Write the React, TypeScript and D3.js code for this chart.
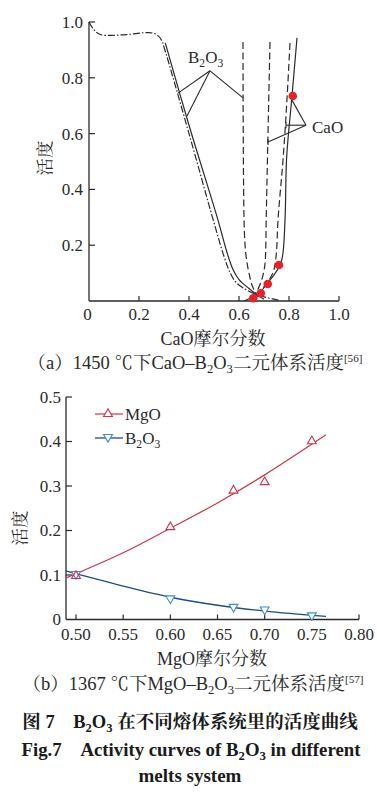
import React from "react";
import * as d3 from "d3";

type P = [number, number];

// ---- Chart (a): CaO–B2O3 at 1450 ℃ ----
const aXTicks = [0, 0.2, 0.4, 0.6, 0.8, 1.0];
const aYTicks = [0.2, 0.4, 0.6, 0.8, 1.0];
const aB2O3DashDot: P[] = [
  [0, 1.0], [0.02, 0.972], [0.045, 0.955], [0.15, 0.955], [0.24, 0.962], [0.27, 0.955],
  [0.29, 0.935], [0.30, 0.91], [0.40, 0.6], [0.497, 0.29], [0.54, 0.16], [0.565, 0.1],
  [0.59, 0.065], [0.64, 0.035], [0.70, 0.015], [0.76, 0.003],
];
const aB2O3Solid: P[] = [
  [0.305, 0.925], [0.40, 0.63], [0.516, 0.29], [0.55, 0.18], [0.575, 0.115], [0.60, 0.077],
  [0.64, 0.045], [0.672, 0.022], [0.70, 0.006],
];
const aB2O3Dashed: P[] = [
  [0.616, 0.928], [0.617, 0.6], [0.62, 0.3], [0.626, 0.18], [0.64, 0.1], [0.655, 0.05], [0.675, 0.015],
];
const aCaODashed1: P[] = [
  [0.724, 0.928], [0.716, 0.6], [0.709, 0.3], [0.706, 0.16], [0.698, 0.1], [0.682, 0.055],
  [0.662, 0.022], [0.65, 0.01],
];
const aCaODashed2: P[] = [
  [0.804, 0.925], [0.776, 0.505], [0.756, 0.29], [0.748, 0.158], [0.735, 0.1], [0.712, 0.065],
  [0.685, 0.035], [0.664, 0.014],
];
const aCaOSolid: P[] = [
  [0.832, 0.943], [0.812, 0.735], [0.79, 0.505], [0.784, 0.29], [0.776, 0.172], [0.765, 0.13],
  [0.745, 0.1], [0.71, 0.06], [0.675, 0.025], [0.644, 0.01], [0.62, 0.0],
];
const aCaOPoints: P[] = [
  [0.815, 0.735], [0.76, 0.129], [0.715, 0.061], [0.687, 0.028], [0.657, 0.01],
];
// leader lines (data coordinates)
const aB2O3Apex: P = [0.484, 0.825];
const aB2O3Targets: P[] = [[0.356, 0.745], [0.392, 0.663], [0.616, 0.728]];
const aCaOApex: P = [0.868, 0.63];
const aCaOTargets: P[] = [[0.812, 0.72], [0.788, 0.63], [0.716, 0.57]];

// ---- Chart (b): MgO–B2O3 at 1367 ℃ ----
const bXTicks = [0.5, 0.55, 0.6, 0.65, 0.7, 0.75, 0.8];
const bYTicks = [0, 0.1, 0.2, 0.3, 0.4, 0.5];
const bMgOX = [0.5, 0.6, 0.667, 0.7, 0.75];
const bMgOY = [0.10, 0.21, 0.292, 0.311, 0.403];
const bB2O3X = [0.5, 0.6, 0.667, 0.7, 0.75];
const bB2O3Y = [0.10, 0.045, 0.026, 0.02, 0.007];
const bMgOFit: P[] = [[0.489, 0.093], [0.55, 0.15], [0.6, 0.205], [0.65, 0.262], [0.7, 0.325], [0.765, 0.415]];
const bB2O3Fit: P[] = [[0.489, 0.109], [0.55, 0.075], [0.6, 0.05], [0.65, 0.032], [0.7, 0.019], [0.765, 0.007]];

const SERIF = "'Liberation Serif','Times New Roman','Noto Serif CJK SC','Noto Sans CJK SC',serif";
const INK = "#2a2a2a";
const RED_DOT = "#e5232b";
const MGO_COLOR = "#c8374a";
const B2O3_LINE = "#1e4d80";
const B2O3_MARK = "#3b8ec9";

// "before B₂O₃ after" rendered as tspans (no empty tspans)
function b2o3(before: string, after: string, d = 4) {
  return [
    <tspan key="b">{before + "B"}</tspan>,
    <tspan key="s2" dy={d} fontSize="0.68em">2</tspan>,
    <tspan key="o" dy={-d}>O</tspan>,
    <tspan key="s3" dy={d} fontSize="0.68em">3</tspan>,
    <tspan key="a" dy={-d}>{after}</tspan>,
  ];
}

export default function App() {
  // chart (a) scales
  const ax = d3.scaleLinear().domain([0, 1]).range([89, 339]);
  const ay = d3.scaleLinear().domain([0, 1]).range([301, 22]);
  const aLine = d3.line<P>().x((d) => ax(d[0])).y((d) => ay(d[1])).curve(d3.curveMonotoneY);
  const aLineX = d3.line<P>().x((d) => ax(d[0])).y((d) => ay(d[1])).curve(d3.curveCatmullRom.alpha(0.5));

  // chart (b) scales
  const bx = d3.scaleLinear().domain([0.4894, 0.8]).range([66, 359]);
  const by = d3.scaleLinear().domain([0, 0.5]).range([619.5, 397]);
  const bLine = d3.line<P>().x((d) => bx(d[0])).y((d) => by(d[1])).curve(d3.curveCatmullRom.alpha(0.5));
  const triUp = d3.symbol(d3.symbolTriangle, 34)()!;

  const lw = 1.2;

  return (
    <svg width={377} height={795} style={{ position: "absolute", left: 0, top: 0, background: "#fff" }}
      fontFamily={SERIF}>
      <rect x={0} y={0} width={377} height={795} fill="#fff" />
      {/* ===== Chart (a) ===== */}
      <g>
        <line x1={ax(0)} x2={ax(0)} y1={ay(0)} y2={ay(1)} stroke={INK} strokeWidth={1.3} />
        <line x1={ax(0)} x2={ax(1)} y1={ay(0)} y2={ay(0)} stroke={INK} strokeWidth={1.3} />
        {aYTicks.map((t) => (
          <g key={"ay" + t}>
            <line x1={ax(0)} x2={ax(0) + 6} y1={ay(t)} y2={ay(t)} stroke={INK} strokeWidth={1.2} />
            <text x={83} y={ay(t)} dy="0.35em" textAnchor="end" fontSize={17} fill={INK}>{t.toFixed(1)}</text>
          </g>
        ))}
        {aXTicks.map((t) => (
          <g key={"ax" + t}>
            {t > 0 && <line x1={ax(t)} x2={ax(t)} y1={ay(0)} y2={ay(0) - 5} stroke={INK} strokeWidth={1.2} />}
            <text x={ax(t) - (t === 0 ? 1.5 : 0)} y={320} textAnchor="middle" fontSize={17} fill={INK}>
              {t === 0 ? "0" : t.toFixed(1)}
            </text>
          </g>
        ))}
        <text transform="translate(51,158) rotate(-90)" textAnchor="middle" fontSize={17.5} fill={INK}>活度</text>
        <text x={213} y={345} textAnchor="middle" fontSize={18} fill={INK}>CaO摩尔分数</text>

        <g fill="none" stroke={INK} strokeWidth={lw}>
          <path d={aLineX(aB2O3DashDot)!} strokeDasharray="7 2 1.5 2" />
          <path d={aLineX(aB2O3Solid)!} />
          <path d={aLine(aB2O3Dashed)!} strokeDasharray="7 3.5" />
          <path d={aLine(aCaODashed1)!} strokeDasharray="7 3.5" />
          <path d={aLine(aCaODashed2)!} strokeDasharray="7 3.5" />
          <path d={aLine(aCaOSolid)!} />
          {aB2O3Targets.map((t, i) => (
            <line key={"lb" + i} x1={ax(aB2O3Apex[0])} y1={ay(aB2O3Apex[1])} x2={ax(t[0])} y2={ay(t[1])} strokeWidth={1.1} />
          ))}
          {aCaOTargets.map((t, i) => (
            <line key={"lc" + i} x1={ax(aCaOApex[0])} y1={ay(aCaOApex[1])} x2={ax(t[0])} y2={ay(t[1])} strokeWidth={1.1} />
          ))}
          {aCaOTargets.slice(1).map((t, i) => (
            <line key={"lct" + i} x1={ax(t[0])} y1={ay(t[1]) - 3} x2={ax(t[0])} y2={ay(t[1]) + 3} strokeWidth={1.1} />
          ))}
        </g>
        {aCaOPoints.map((p, i) => (
          <circle key={"cp" + i} cx={ax(p[0])} cy={ay(p[1])} r={4.3} fill={RED_DOT} />
        ))}
        <text x={188} y={63} fontSize={17} fill={INK}>{b2o3("", "")}</text>
        <text x={312} y={133} fontSize={17} fill={INK}>CaO</text>

        <text x={195} y={369} textAnchor="middle" fontSize={18.5} fill={INK}>
          {b2o3("（a）1450 ℃下CaO–", "二元体系活度")}
          <tspan dy={-7} fontSize="0.6em">[56]</tspan>
        </text>
      </g>

      {/* ===== Chart (b) ===== */}
      <g>
        <line x1={bx.range()[0]} x2={bx.range()[0]} y1={by(0)} y2={by(0.5)} stroke={INK} strokeWidth={1.3} />
        <line x1={bx.range()[0]} x2={bx.range()[1]} y1={by(0)} y2={by(0)} stroke={INK} strokeWidth={1.3} />
        {bYTicks.map((t) => (
          <g key={"by" + t}>
            {t > 0 && <line x1={bx.range()[0]} x2={bx.range()[0] + 6} y1={by(t)} y2={by(t)} stroke={INK} strokeWidth={1.2} />}
            <text x={61} y={by(t)} dy="0.35em" textAnchor="end" fontSize={17} fill={INK}>{t === 0 ? "0" : t.toFixed(1)}</text>
          </g>
        ))}
        {bXTicks.map((t) => (
          <g key={"bx" + t}>
            <line x1={bx(t)} x2={bx(t)} y1={by(0)} y2={by(0) - 5} stroke={INK} strokeWidth={1.2} />
            <text x={bx(t)} y={640} textAnchor="middle" fontSize={17} fill={INK}>{t.toFixed(2)}</text>
          </g>
        ))}
        <text transform="translate(26,528) rotate(-90)" textAnchor="middle" fontSize={17.5} fill={INK}>活度</text>
        <text x={212} y={665} textAnchor="middle" fontSize={18} fill={INK}>MgO摩尔分数</text>

        <path d={bLine(bMgOFit)!} fill="none" stroke={MGO_COLOR} strokeWidth={1.2} />
        <path d={bLine(bB2O3Fit)!} fill="none" stroke={B2O3_LINE} strokeWidth={1.3} />
        {bB2O3X.map((x, i) => (
          <path key={"bm" + i} d={triUp} transform={`translate(${bx(x)},${by(bB2O3Y[i]) - 1}) rotate(180)`}
            fill="#fff" stroke={B2O3_MARK} strokeWidth={1.1} />
        ))}
        {bMgOX.map((x, i) => (
          <path key={"mm" + i} d={triUp} transform={`translate(${bx(x)},${by(bMgOY[i]) + 1})`}
            fill="#fff" stroke={MGO_COLOR} strokeWidth={1.1} fillOpacity={i === 0 ? 0 : 1} />
        ))}

        {/* legend */}
        <line x1={95} x2={123} y1={414} y2={414} stroke={MGO_COLOR} strokeWidth={1.2} />
        <path d={triUp} transform="translate(108,414)" fill="#fff" stroke={MGO_COLOR} strokeWidth={1.1} />
        <text x={125} y={420} fontSize={17} fill={INK}>MgO</text>
        <line x1={95} x2={123} y1={438} y2={438} stroke={B2O3_LINE} strokeWidth={1.3} />
        <path d={triUp} transform="translate(108,437) rotate(180)" fill="#fff" stroke={B2O3_MARK} strokeWidth={1.1} />
        <text x={125} y={444} fontSize={17} fill={INK}>{b2o3("", "")}</text>

        <text x={193} y={690} textAnchor="middle" fontSize={18.5} fill={INK}>
          {b2o3("（b）1367 ℃下MgO–", "二元体系活度")}
          <tspan dy={-7} fontSize="0.6em">[57]</tspan>
        </text>
      </g>

      {/* ===== Figure title ===== */}
      <text x={190} y={728} textAnchor="middle" fontSize={18.5} fontWeight="bold" fill="#1a1a1a">
        {b2o3("图 7\u2003", " 在不同熔体系统里的活度曲线")}
      </text>
      <text x={191} y={756} textAnchor="middle" fontSize={18.8} fontWeight="bold" fill="#1a1a1a">
        {b2o3("Fig.7\u2003Activity curves of ", " in different")}
      </text>
      <text x={190} y={782} textAnchor="middle" fontSize={19} fontWeight="bold" fill="#1a1a1a">melts system</text>
    </svg>
  );
}
